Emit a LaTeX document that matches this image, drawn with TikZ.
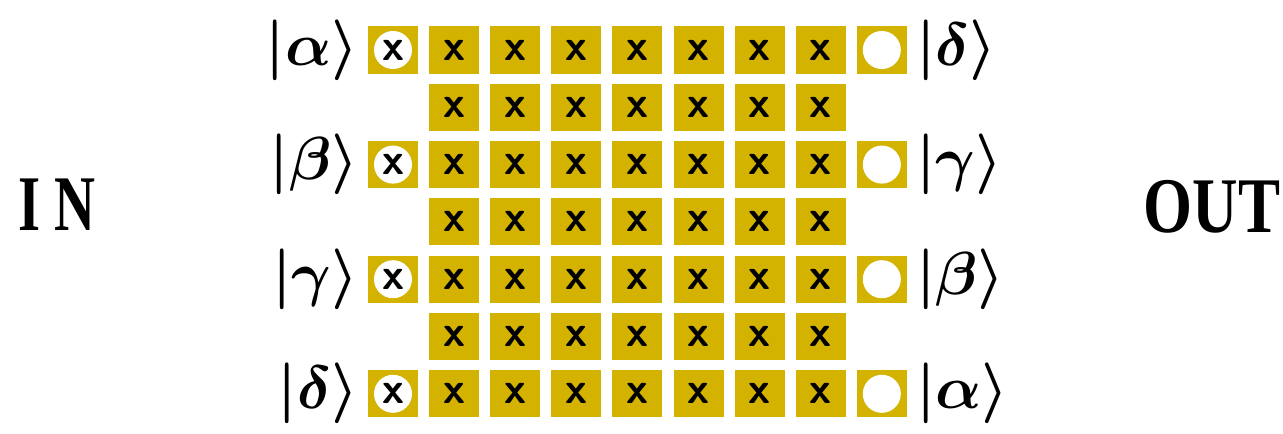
\documentclass[tikz,border=0pt]{standalone}
\usepackage{fontspec}
\newfontfamily\sidefont{Liberation Serif}
\usetikzlibrary{positioning}
\definecolor{gold}{RGB}{212,178,0}
\tikzset{
  cell/.style={fill=gold, minimum width=0.5cm, minimum height=0.47cm, inner sep=0pt,
    font=\sffamily\bfseries\fontsize{12.5}{12.5}\selectfont},
  port/.style={cell, path picture={\fill[white] (path picture bounding box.center) circle (0.19cm);}},
  ket/.style={font=\LARGE\boldmath, inner sep=0pt},
  side/.style={font=\sidefont\bfseries\fontsize{22.4}{22.4}\selectfont, inner sep=0pt}
}
\begin{document}
\begin{tikzpicture}[x=0.01cm,y=-0.01cm]
    \useasboundingbox (0,0) rectangle (1283,434);

    % the x cells
    \foreach \r in {0,...,6}
      \foreach \c in {1,...,7}
        \node[cell] (q\r-\c) at ({393+61.1*\c},{50+57.3*\r}) {x};

    % in and out ports
    \foreach \r in {0,2,4,6} {
      \node[port] (q\r-0) at (393,{50+57.3*\r}) {x};
      \node[port] (q\r-8) at ({393+61.1*8},{50+57.3*\r}) {};
    }

    \node (lin1) [ket, left = 0.08cm of q0-0] {$|\alpha\rangle$};
    \node (lin2) [ket, left = 0.08cm of q2-0] {$|\beta\rangle$};
    \node (lin3) [ket, left = 0.08cm of q4-0] {$|\gamma\rangle$};
    \node (lin4) [ket, left = 0.08cm of q6-0] {$|\delta\rangle$};

    \node (lout1) [ket, right = 0.08cm of q0-8] {$|\delta\rangle$};
    \node (lout2) [ket, right = 0.08cm of q2-8] {$|\gamma\rangle$};
    \node (lout3) [ket, right = 0.08cm of q4-8] {$|\beta\rangle$};
    \node (lout4) [ket, right = 0.08cm of q6-8] {$|\alpha\rangle$};

    \node (in) [side] at (57,205) {\scalebox{0.72}[1]{I N}};
    \node (out) [side] at (1212,207) {\scalebox{0.8}[1]{OUT}};
\end{tikzpicture}
\end{document}
